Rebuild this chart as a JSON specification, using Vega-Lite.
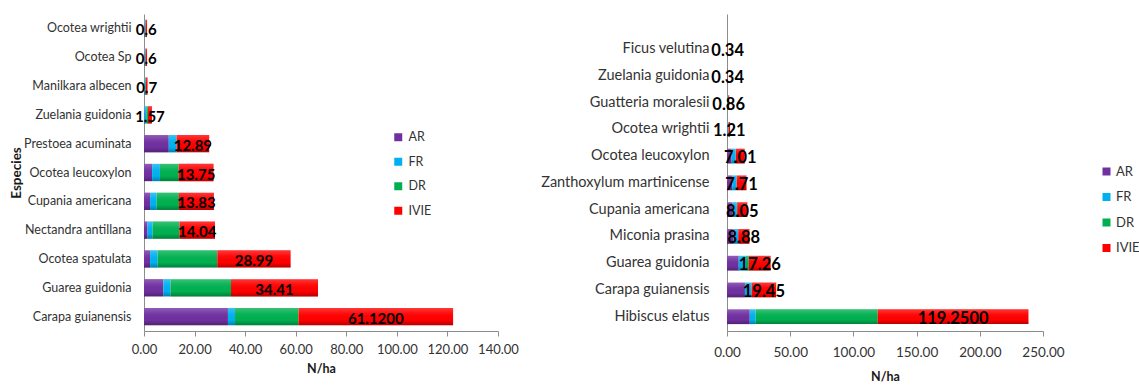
{
  "$schema": "https://vega.github.io/schema/vega-lite/v6.json",
  "autosize": {"type": "pad"},
  "padding": {"left": 9, "top": 14, "right": 0, "bottom": 0},
  "background": "white",
  "bounds": "flush",
  "spacing": 229,
  "config": {
    "font": "Lato",
    "view": {"stroke": null},
    "axis": {
      "grid": false,
      "domainColor": "#8c8c8c",
      "tickColor": "#8c8c8c",
      "labelColor": "#333333",
      "labelFont": "Lato",
      "titleFont": "Lato",
      "titleColor": "#1a1a1a",
      "titleFontWeight": "bold",
      "titleFontSize": 12.5
    },
    "axisX": {"labelOverlap": false, "labelFlush": false},
    "legend": {
      "labelFont": "Lato",
      "labelFontSize": 12.5,
      "labelColor": "#333333",
      "symbolType": "square",
      "symbolSize": 64,
      "symbolStrokeWidth": 0,
      "rowPadding": 11.5,
      "labelOffset": 4
    }
  },
  "datasets": {
    "izquierda": [
      {"especie": "Ocotea wrightii", "AR": 0.1, "FR": 0.3, "DR": 0.2, "IVIE": 0.6, "etiqueta": "0.6"},
      {"especie": "Ocotea Sp", "AR": 0.1, "FR": 0.3, "DR": 0.2, "IVIE": 0.6, "etiqueta": "0.6"},
      {"especie": "Manilkara albecen", "AR": 0.1, "FR": 0.3, "DR": 0.3, "IVIE": 0.7, "etiqueta": "0.7"},
      {"especie": "Zuelania guidonia", "AR": 0.2, "FR": 0.7, "DR": 0.67, "IVIE": 1.57, "etiqueta": "1.57"},
      {"especie": "Prestoea acuminata", "AR": 9.8, "FR": 3.0, "DR": 0.09, "IVIE": 12.89, "etiqueta": "12.89"},
      {"especie": "Ocotea leucoxylon", "AR": 3.2, "FR": 3.1, "DR": 7.45, "IVIE": 13.75, "etiqueta": "13.75"},
      {"especie": "Cupania americana", "AR": 2.4, "FR": 2.6, "DR": 8.83, "IVIE": 13.83, "etiqueta": "13.83"},
      {"especie": "Nectandra antillana", "AR": 1.4, "FR": 2.0, "DR": 10.64, "IVIE": 14.04, "etiqueta": "14.04"},
      {"especie": "Ocotea spatulata", "AR": 2.4, "FR": 3.0, "DR": 23.59, "IVIE": 28.99, "etiqueta": "28.99"},
      {"especie": "Guarea guidonia", "AR": 7.6, "FR": 2.9, "DR": 23.91, "IVIE": 34.41, "etiqueta": "34.41"},
      {"especie": "Carapa guianensis", "AR": 33.2, "FR": 2.8, "DR": 25.12, "IVIE": 61.12, "etiqueta": "61.1200"}
    ],
    "derecha": [
      {"especie": "Ficus velutina", "AR": 0.08, "FR": 0.2, "DR": 0.06, "IVIE": 0.34, "etiqueta": "0.34"},
      {"especie": "Zuelania guidonia", "AR": 0.08, "FR": 0.2, "DR": 0.06, "IVIE": 0.34, "etiqueta": "0.34"},
      {"especie": "Guatteria moralesii", "AR": 0.2, "FR": 0.45, "DR": 0.21, "IVIE": 0.86, "etiqueta": "0.86"},
      {"especie": "Ocotea wrightii", "AR": 0.3, "FR": 0.6, "DR": 0.31, "IVIE": 1.21, "etiqueta": "1.21"},
      {"especie": "Ocotea leucoxylon", "AR": 3.6, "FR": 3.2, "DR": 0.21, "IVIE": 7.01, "etiqueta": "7.01"},
      {"especie": "Zanthoxylum martinicense", "AR": 4.2, "FR": 3.3, "DR": 0.21, "IVIE": 7.71, "etiqueta": "7.71"},
      {"especie": "Cupania americana", "AR": 4.3, "FR": 3.5, "DR": 0.25, "IVIE": 8.05, "etiqueta": "8.05"},
      {"especie": "Miconia prasina", "AR": 5.3, "FR": 3.4, "DR": 0.18, "IVIE": 8.88, "etiqueta": "8.88"},
      {"especie": "Guarea guidonia", "AR": 9.3, "FR": 5.6, "DR": 2.36, "IVIE": 17.26, "etiqueta": "17.26"},
      {"especie": "Carapa guianensis", "AR": 14.2, "FR": 5.0, "DR": 0.25, "IVIE": 19.45, "etiqueta": "19.45"},
      {"especie": "Hibiscus elatus", "AR": 18.0, "FR": 4.7, "DR": 96.55, "IVIE": 119.25, "etiqueta": "119.2500"}
    ]
  },
  "resolve": {
    "scale": {"color": "independent", "x": "independent", "y": "independent"},
    "legend": {"color": "independent"}
  },
  "hconcat": [
    {
      "width": 354,
      "height": 317,
      "data": {"name": "izquierda"},
      "transform": [
        {"fold": ["AR", "FR", "DR", "IVIE"], "as": ["componente", "valor"]},
        {"stack": "valor", "groupby": ["especie"], "as": ["ini", "fin"]}
      ],
      "encoding": {
        "y": {
          "field": "especie", "type": "nominal", "sort": null,
          "scale": {"paddingInner": 0.4, "paddingOuter": 0.2},
          "axis": {
            "title": "Especies", "titleX": -128, "titleBaseline": "middle", "titleFontSize": 13.5,
            "ticks": false, "labelPadding": 13, "labelFontSize": 12.5, "labelLimit": 200
          }
        }
      },
      "layer": [
        {
          "mark": {"type": "bar"},
          "encoding": {
            "x": {
              "field": "ini", "type": "quantitative",
              "scale": {"domain": [0, 140], "nice": false},
              "axis": {
                "title": "N/ha", "values": [0, 20, 40, 60, 80, 100, 120, 140], "format": ".2f",
                "labelFontSize": 13, "tickSize": 5, "labelPadding": 7, "titlePadding": 6
              }
            },
            "x2": {"field": "fin"},
            "color": {
              "field": "componente", "type": "nominal",
              "scale": {"domain": ["AR", "FR", "DR", "IVIE"], "range": ["#7030a0", "#00b0f0", "#00b050", "#ff0000"]},
              "legend": {"title": null, "orient": "none", "legendX": 248, "legendY": 117}
            }
          }
        },
        {
          "mark": {
            "type": "bar",
            "color": {
              "gradient": "linear", "x1": 0, "y1": 0, "x2": 0, "y2": 1,
              "stops": [
                {"offset": 0, "color": "rgba(255,255,255,0.22)"},
                {"offset": 0.35, "color": "rgba(255,255,255,0.04)"},
                {"offset": 0.7, "color": "rgba(0,0,0,0)"},
                {"offset": 1, "color": "rgba(0,0,0,0.28)"}
              ]
            }
          },
          "encoding": {
            "x": {"field": "ini", "type": "quantitative"},
            "x2": {"field": "fin"}
          }
        },
        {
          "transform": [
            {"filter": "datum.componente === 'IVIE'"},
            {"fold": ["ini", "fin"], "as": ["extremo", "posicion"]}
          ],
          "mark": {"type": "text", "fontWeight": "bold", "fontSize": 15, "color": "#000000", "baseline": "middle", "dy": 2},
          "encoding": {
            "x": {"aggregate": "mean", "field": "posicion", "type": "quantitative"},
            "text": {"field": "etiqueta", "type": "nominal"}
          }
        }
      ]
    },
    {
      "width": 316,
      "height": 317,
      "data": {"name": "derecha"},
      "transform": [
        {"fold": ["AR", "FR", "DR", "IVIE"], "as": ["componente", "valor"]},
        {"stack": "valor", "groupby": ["especie"], "as": ["ini", "fin"]}
      ],
      "encoding": {
        "y": {
          "field": "especie", "type": "nominal", "sort": null,
          "scale": {"paddingInner": 0.45, "paddingOuter": 0.645, "align": 0.8},
          "axis": {
            "title": null, "ticks": false, "labelPadding": 18, "labelFontSize": 14.5, "labelLimit": 220
          }
        }
      },
      "layer": [
        {
          "mark": {"type": "bar"},
          "encoding": {
            "x": {
              "field": "ini", "type": "quantitative",
              "scale": {"domain": [0, 250], "nice": false},
              "axis": {
                "title": "N/ha", "values": [0, 50, 100, 150, 200, 250], "format": ".2f",
                "labelFontSize": 13.5, "tickSize": 5, "labelPadding": 9, "titlePadding": 12
              }
            },
            "x2": {"field": "fin"},
            "color": {
              "field": "componente", "type": "nominal",
              "scale": {"domain": ["AR", "FR", "DR", "IVIE"], "range": ["#7030a0", "#00b0f0", "#00b050", "#ff0000"]},
              "legend": {"title": null, "orient": "none", "legendX": 373, "legendY": 151, "labelOffset": 3, "labelFontSize": 13}
            }
          }
        },
        {
          "mark": {
            "type": "bar",
            "color": {
              "gradient": "linear", "x1": 0, "y1": 0, "x2": 0, "y2": 1,
              "stops": [
                {"offset": 0, "color": "rgba(255,255,255,0.22)"},
                {"offset": 0.35, "color": "rgba(255,255,255,0.04)"},
                {"offset": 0.7, "color": "rgba(0,0,0,0)"},
                {"offset": 1, "color": "rgba(0,0,0,0.28)"}
              ]
            }
          },
          "encoding": {
            "x": {"field": "ini", "type": "quantitative"},
            "x2": {"field": "fin"}
          }
        },
        {
          "transform": [
            {"filter": "datum.componente === 'IVIE'"},
            {"fold": ["ini", "fin"], "as": ["extremo", "posicion"]}
          ],
          "mark": {"type": "text", "fontWeight": "bold", "fontSize": 16.5, "color": "#000000", "baseline": "middle", "dy": 2},
          "encoding": {
            "x": {"aggregate": "mean", "field": "posicion", "type": "quantitative"},
            "text": {"field": "etiqueta", "type": "nominal"}
          }
        }
      ]
    }
  ]
}
